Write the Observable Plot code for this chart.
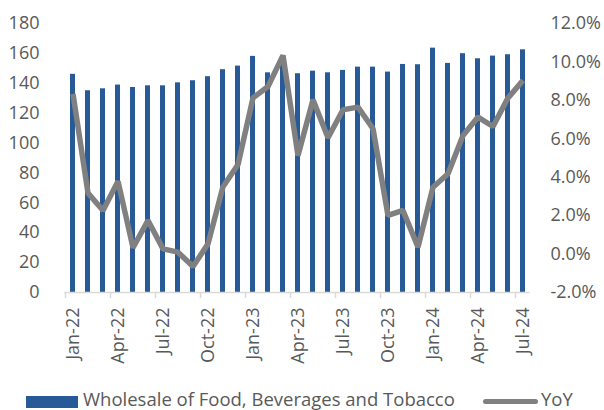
<!DOCTYPE html>
<html>
<head>
<meta charset="utf-8">
<script src="https://cdn.jsdelivr.net/npm/d3@7"></script>
<script src="https://cdn.jsdelivr.net/npm/@observablehq/plot@0.6"></script>
<style>
  html, body { margin: 0; padding: 0; background: #fff; }
  #wrap { position: relative; width: 604px; height: 410px; overflow: hidden; font-family: "Open Sans", sans-serif; color: #595959; }
  #legend { position: absolute; left: 0; top: 390px; width: 604px; height: 20px; font-size: 18.5px; line-height: 18.5px; }
  .sw { position: absolute; }
  .lt { position: absolute; top: 0; white-space: nowrap; }
</style>
</head>
<body>
<div id="wrap">
  <div id="chart"></div>
  <div id="legend">
    <div class="sw" style="left:26px; top:6px; width:52px; height:12px; background:#275a96;"></div>
    <div class="lt" style="left:83px;">Wholesale of Food, Beverages and Tobacco</div>
    <div class="sw" style="left:483px; top:9px; width:55px; height:5px; border-radius:3px; background:#808080;"></div>
    <div class="lt" style="left:541px;">YoY</div>
  </div>
</div>
<script>
const months = ["Jan-22","Feb-22","Mar-22","Apr-22","May-22","Jun-22","Jul-22","Aug-22","Sep-22","Oct-22","Nov-22","Dec-22",
  "Jan-23","Feb-23","Mar-23","Apr-23","May-23","Jun-23","Jul-23","Aug-23","Sep-23","Oct-23","Nov-23","Dec-23",
  "Jan-24","Feb-24","Mar-24","Apr-24","May-24","Jun-24","Jul-24"];
const wholesale = [146,135,136.3,138.8,137.2,138.3,138.3,140.3,141.7,144.4,149.1,151.5,
  158,147,153,146.4,148.1,147,148.6,150.8,150.8,147.5,152.6,152.4,
  163.5,153.3,159.8,156.4,158.2,159.1,162.4];
const yoy = [8.34,3.17,2.27,3.79,0.33,1.75,0.27,0.10,-0.65,0.53,3.5,4.66,
  8.13,8.72,10.34,5.13,8.03,6.05,7.51,7.65,6.52,2.01,2.27,0.36,
  3.48,4.18,6.17,7.13,6.64,8.13,9.04];
const leftTicks = [0,20,40,60,80,100,120,140,160,180];
const rightTicks = [-2,0,2,4,6,8,10,12];
const labelMonths = months.filter((m, i) => i % 3 === 0);

const rows = months.map((m, i) => ({month: m, value: wholesale[i], yoy: yoy[i]}));
// right axis (-2%..12%) mapped onto left axis (0..180)
const toLeft = v => (v + 2) / 14 * 180;
const fromLeft = v => v / 180 * 14 - 2;

const chart = Plot.plot({
  width: 604,
  height: 385,
  marginLeft: 64.5,
  marginRight: 74.5,
  marginTop: 23,
  marginBottom: 93,
  style: {fontFamily: "Open Sans, sans-serif", fontSize: "18px", color: "#595959", background: "white"},
  x: {domain: months, type: "band", paddingInner: 2/3, paddingOuter: 1/3},
  y: {domain: [0, 180]},
  marks: [
    Plot.barY(rows, {x: "month", y: "value", fill: "#275a96"}),
    Plot.ruleY([0], {stroke: "#d9d9d9", strokeWidth: 1.5}),
    Plot.ruleX(labelMonths, {x: d => d, y1: 0, y2: 0, dx: -7.5, stroke: "#d9d9d9", strokeWidth: 1.5, insetBottom: -6}),
    Plot.lineY(rows, {x: "month", y: d => toLeft(d.yoy), stroke: "#808080", strokeWidth: 5.5, strokeLinejoin: "miter", strokeLinecap: "butt"}),
    Plot.axisY(leftTicks, {anchor: "left", tickSize: 0, tickPadding: 25.5, label: null, fill: "#595959"}),
    Plot.axisY(rightTicks.map(toLeft), {anchor: "right", tickSize: 0, tickPadding: 20.5, label: null, fill: "#595959",
      tickFormat: v => fromLeft(v).toFixed(1) + "%"}),
    Plot.axisX(labelMonths, {anchor: "bottom", tickSize: 0, tickPadding: 15, tickRotate: -90, label: null, fill: "#595959"})
  ]
});
document.getElementById("chart").appendChild(chart);
</script>
</body>
</html>
